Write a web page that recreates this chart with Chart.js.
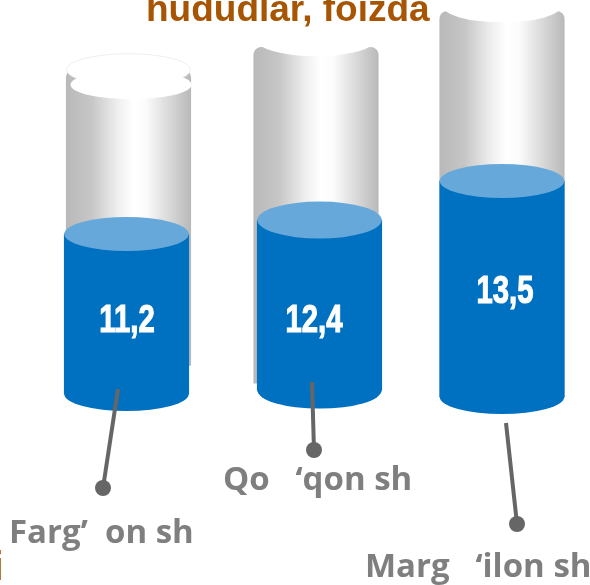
<!DOCTYPE html>
<html>
<head>
<meta charset="utf-8">
<style>
  html, body { margin: 0; padding: 0; background: #fff; }
  canvas { display: block; }
</style>
<script src="https://cdn.jsdelivr.net/npm/chart.js@4"></script>
</head>
<body>
<canvas id="chart" width="590" height="585"></canvas>
<script>
const categories = ['Farg’  on sh', 'Qo   ‘qon sh', 'Marg   ‘ilon sh'];
const fillValues = [11.2, 12.4, 13.5];
const tubeValues = [22.7, 25, 24.1];
const tubeBases = [2, 0.5, 0];

// each cylinder in the picture has its own vertical scale, they are not drawn to one axis
const axisRanges = [
  { min: -13.37, max: 27.58 },
  { min: -14.22, max: 28.45 },
  { min: -11.75, max: 24.81 },
];
const fillShift = [-0.5, 5, 0];
const tubeShift = [1.5, 1.5, 0];
const fillRy = [17, 18.5, 17];
const barWidth = 124.5;

// white openings on top of the grey tubes, relative to the top centre of the tube
const tubeCaps = [
  [{ dx: 0, dy: 0, rx: 62, ry: 16, edge: '#eeeeee' }, { dx: 2.5, dy: 15, rx: 60.5, ry: 14.5 }],
  [{ dx: 0, dy: -8, rx: 60, ry: 17 }],
  [{ dx: 0, dy: -6, rx: 60, ry: 17 }],
];

const valueLabelAt = [[127, 318], [314, 318], [505, 289]];
const categoryLabelAt = [[9, 543], [223, 490], [365, 577]];
const leaders = [
  { from: [118, 389], to: [103, 488] },
  { from: [312, 382], to: [314, 450] },
  { from: [506, 423], to: [517, 524] },
];

function inColumn(value, i) {
  return categories.map((_, j) => (j === i ? value : null));
}

function tubeGradient(c) {
  const x = c.chart.scales.x.getPixelForValue(c.dataset.column);
  if (!Number.isFinite(x)) return '#c6c6c6';
  const g = c.chart.ctx.createLinearGradient(x - barWidth / 2, 0, x + barWidth / 2, 0);
  g.addColorStop(0, '#b9b9b9');
  g.addColorStop(0.2, '#c6c6c6');
  g.addColorStop(0.42, '#f0f0f0');
  g.addColorStop(0.54, '#ffffff');
  g.addColorStop(0.64, '#fbfbfb');
  g.addColorStop(1, '#b9b9b9');
  return g;
}

function ellipse(ctx, x, y, rx, ry, color, edge) {
  ctx.beginPath();
  ctx.ellipse(x, y, rx, ry, 0, 0, Math.PI * 2);
  ctx.fillStyle = color;
  ctx.fill();
  if (edge) {
    ctx.strokeStyle = edge;
    ctx.lineWidth = 1;
    ctx.stroke();
  }
}

const cylinderPlugin = {
  id: 'cylinder',
  beforeDatasetDraw(chart, args) {
    const ds = chart.data.datasets[args.index];
    chart.ctx.save();
    chart.ctx.translate(ds.shift, 0);
  },
  afterDatasetDraw(chart, args) {
    const ds = chart.data.datasets[args.index];
    const ctx = chart.ctx;
    const bar = args.meta.data[ds.column];
    if (ds.kind === 'fill') {
      const ry = fillRy[ds.column];
      ellipse(ctx, bar.x, bar.base, barWidth / 2, ry, '#0070c0');
      ellipse(ctx, bar.x, bar.y, barWidth / 2, ry, '#66a8d9');
    } else {
      tubeCaps[ds.column].forEach(cap => {
        ellipse(ctx, bar.x + cap.dx, bar.y + cap.dy, cap.rx, cap.ry, '#ffffff', cap.edge);
      });
    }
    ctx.restore();
  },
  afterDatasetsDraw(chart) {
    const ctx = chart.ctx;
    ctx.save();

    leaders.forEach(l => {
      ctx.beginPath();
      ctx.moveTo(l.from[0], l.from[1]);
      ctx.lineTo(l.to[0], l.to[1]);
      ctx.strokeStyle = '#666666';
      ctx.lineWidth = 4;
      ctx.stroke();
      ellipse(ctx, l.to[0], l.to[1], 8, 8, '#666666');
    });

    ctx.textBaseline = 'alphabetic';

    // the value labels are a heavy condensed face in the picture
    ctx.fillStyle = '#ffffff';
    ctx.strokeStyle = '#ffffff';
    ctx.lineWidth = 1.2;
    ctx.textAlign = 'center';
    ctx.font = 'bold 39px "Liberation Sans"';
    fillValues.forEach((v, i) => {
      const label = v.toFixed(1).replace('.', ',');
      ctx.save();
      ctx.translate(valueLabelAt[i][0], valueLabelAt[i][1] + 14);
      ctx.scale(0.75, 1);
      ctx.fillText(label, 0, 0);
      ctx.strokeText(label, 0, 0);
      ctx.restore();
    });

    ctx.textAlign = 'left';
    ctx.fillStyle = '#7f7f7f';
    ctx.font = 'bold 33px "Open Sans"';
    categories.forEach((name, i) => {
      ctx.fillText(name, categoryLabelAt[i][0], categoryLabelAt[i][1]);
    });

    ctx.fillStyle = '#a85503';
    ctx.font = 'bold 37px "Liberation Sans"';
    ctx.fillText('hududlar, foizda', 146, 21);
    ctx.font = 'bold 40px "Liberation Sans"';
    ctx.textAlign = 'right';
    ctx.fillText('i', 3.5, 580);

    ctx.restore();
  },
};

const fillSets = fillValues.map((v, i) => ({
  kind: 'fill',
  column: i,
  shift: fillShift[i],
  data: inColumn(v, i),
  yAxisID: 'y' + i,
  backgroundColor: '#0070c0',
  order: 1,
}));

const tubeSets = tubeValues.map((v, i) => ({
  kind: 'tube',
  column: i,
  shift: tubeShift[i],
  data: inColumn(v, i),
  base: tubeBases[i],
  yAxisID: 'y' + i,
  backgroundColor: tubeGradient,
  borderRadius: { topLeft: 8, topRight: 8 },
  borderSkipped: false,
  order: 2,
}));

const scales = {
  x: { display: false, offset: false, grid: { display: false } },
};
axisRanges.forEach((r, i) => {
  scales['y' + i] = { display: false, min: r.min, max: r.max, grid: { display: false } };
});

new Chart(document.getElementById('chart'), {
  type: 'bar',
  data: { labels: categories, datasets: [...fillSets, ...tubeSets] },
  options: {
    responsive: false,
    animation: false,
    layout: { padding: { left: 127, right: 88, top: 0, bottom: 0 } },
    datasets: { bar: { grouped: false, barThickness: barWidth, clip: false } },
    plugins: { legend: { display: false }, tooltip: { enabled: false } },
    scales,
  },
  plugins: [cylinderPlugin],
});
</script>
</body>
</html>
